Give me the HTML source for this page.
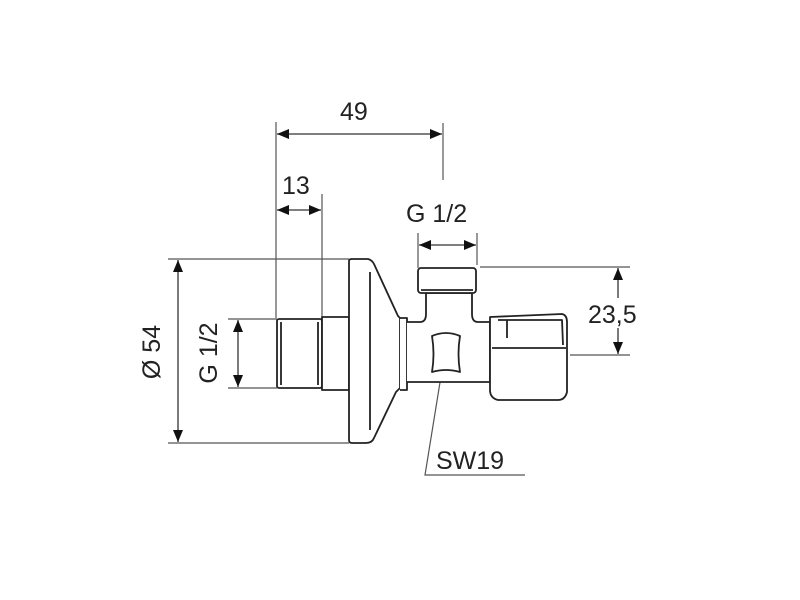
<!DOCTYPE html>
<html><head><style>body{margin:0;background:#fff}svg{display:block}</style></head><body>
<svg width="800" height="600" viewBox="0 0 800 600" xmlns="http://www.w3.org/2000/svg">
<defs>
<marker id="a" viewBox="0 0 12 10" refX="12" refY="5" markerWidth="12" markerHeight="10" markerUnits="userSpaceOnUse" orient="auto-start-reverse"><path d="M0,0 L12,5 L0,10 z" fill="#111"/></marker>
</defs>
<g stroke="#555" stroke-width="1.2" fill="none">
<line x1="276" y1="122" x2="276" y2="318"/>
<line x1="443" y1="123" x2="443" y2="180"/>
<line x1="322" y1="194" x2="322" y2="318"/>
<line x1="418" y1="233" x2="418" y2="268"/>
<line x1="477" y1="233" x2="477" y2="265"/>
<line x1="168" y1="259" x2="349" y2="259"/>
<line x1="168" y1="443" x2="349" y2="443"/>
<line x1="228" y1="319" x2="277" y2="319"/>
<line x1="228" y1="388" x2="277" y2="388"/>
<line x1="480" y1="267" x2="630" y2="267"/>
<line x1="570" y1="355" x2="630" y2="355"/>
<polyline points="442,370 425,475 525,475"/>
</g>
<g stroke="#333" stroke-width="1.3" marker-start="url(#a)" marker-end="url(#a)">
<line x1="277" y1="134" x2="442" y2="134"/>
<line x1="277" y1="210" x2="321" y2="210"/>
<line x1="419" y1="245" x2="476" y2="245"/>
<line x1="178" y1="260" x2="178" y2="442"/>
<line x1="238" y1="320" x2="238" y2="387"/>
<line x1="618" y1="268" x2="618" y2="354"/>
</g>
<rect x="590" y="298" width="62" height="30" fill="#fff"/>
<g stroke="#222" stroke-width="1.8" fill="#fff" stroke-linejoin="round">
<rect x="277" y="319" width="45" height="69" rx="2"/>
<line x1="281" y1="322" x2="281" y2="385"/><line x1="318" y1="322" x2="318" y2="385"/>
<rect x="322" y="317" width="27" height="73"/>
<path d="M349,261 Q349,259 352,259 L368,259 Q372,260 374,264 L398,316 L400,318 L400,388 L396,392 L374,438 Q372,443 366,443 L352,443 Q349,443 349,440 Z"/>
<line x1="370" y1="272" x2="370" y2="430"/>
<path d="M400,318 L407,318 L407,390 L400,390"/>
<path d="M407,322 L420,322 Q426,322 426,314 L426,293 L472,293 L472,314 Q472,322 478,322 L490,322 L490,382 L407,382"/>
<rect x="418" y="268" width="58" height="25" rx="3"/>
<line x1="421" y1="290" x2="473" y2="290"/>
<path d="M432,336 Q446,330 460,336 Q457,354 460,372 Q446,368 432,372 Q435,354 432,336 Z"/>
<path d="M490,317 L562,314 Q567,315 567,322 L567,392 Q565,400 558,400 L498,400 Q490,398 490,390 Z"/>
<path d="M492,348 L566,348"/><path d="M498,320 L562,320 L563,345"/><line x1="507" y1="320" x2="507" y2="338"/>
</g>
<g font-family="Liberation Sans, sans-serif" font-size="25" fill="#222">
<text x="340" y="120">49</text>
<text x="282" y="194">13</text>
<text x="406" y="222">G 1/2</text>
<text x="588" y="323">23,5</text>
<text x="436" y="469">SW19</text>
<text transform="translate(160,352) rotate(-90)" text-anchor="middle">Ø 54</text>
<text transform="translate(217,353) rotate(-90)" text-anchor="middle">G 1/2</text>
</g>
</svg>
</body></html>
